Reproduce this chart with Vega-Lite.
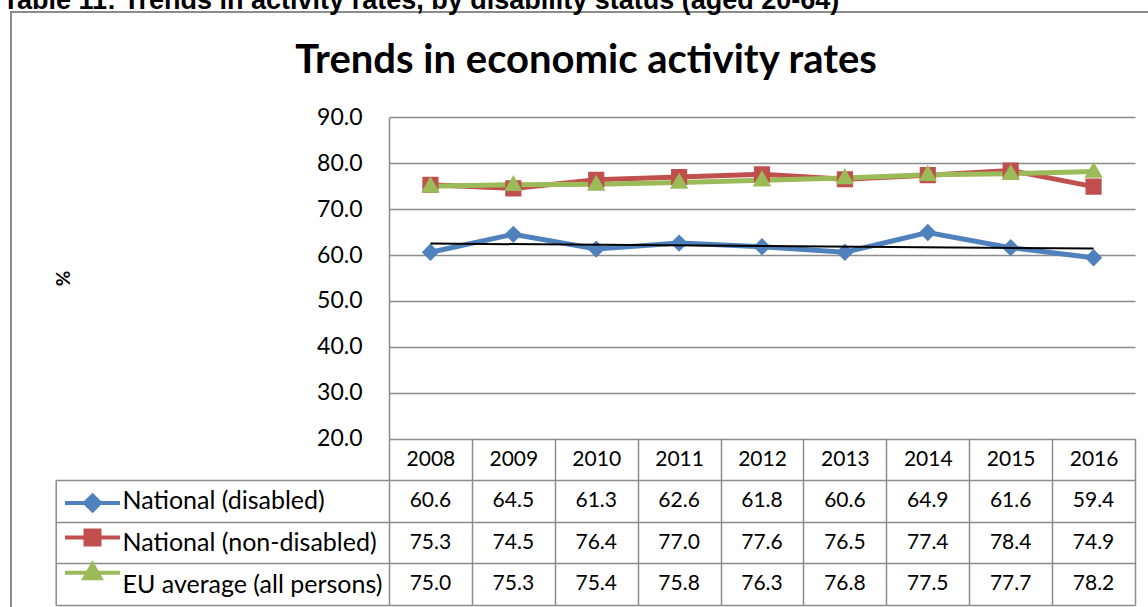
{
  "$schema": "https://vega.github.io/schema/vega-lite/v6.json",
  "width": 1150,
  "height": 600,
  "autosize": {"type": "none"},
  "padding": {"left": 11, "top": 12, "right": 0, "bottom": 0},
  "background": "white",
  "view": {"stroke": "#8c8c8c", "strokeWidth": 2},
  "title": {
    "text": "Trends in economic activity rates",
    "font": "Lato",
    "fontSize": 40,
    "fontWeight": "bold",
    "color": "black",
    "anchor": "middle",
    "frame": "group",
    "baseline": "alphabetic",
    "offset": -127
  },
  "datasets": {
    "rates": [
      {"series": "National (disabled)", "year": 2008, "value": 60.6},
      {"series": "National (disabled)", "year": 2009, "value": 64.5},
      {"series": "National (disabled)", "year": 2010, "value": 61.3},
      {"series": "National (disabled)", "year": 2011, "value": 62.6},
      {"series": "National (disabled)", "year": 2012, "value": 61.8},
      {"series": "National (disabled)", "year": 2013, "value": 60.6},
      {"series": "National (disabled)", "year": 2014, "value": 64.9},
      {"series": "National (disabled)", "year": 2015, "value": 61.6},
      {"series": "National (disabled)", "year": 2016, "value": 59.4},
      {"series": "National (non-disabled)", "year": 2008, "value": 75.3},
      {"series": "National (non-disabled)", "year": 2009, "value": 74.5},
      {"series": "National (non-disabled)", "year": 2010, "value": 76.4},
      {"series": "National (non-disabled)", "year": 2011, "value": 77.0},
      {"series": "National (non-disabled)", "year": 2012, "value": 77.6},
      {"series": "National (non-disabled)", "year": 2013, "value": 76.5},
      {"series": "National (non-disabled)", "year": 2014, "value": 77.4},
      {"series": "National (non-disabled)", "year": 2015, "value": 78.4},
      {"series": "National (non-disabled)", "year": 2016, "value": 74.9},
      {"series": "EU average (all persons)", "year": 2008, "value": 75.0},
      {"series": "EU average (all persons)", "year": 2009, "value": 75.3},
      {"series": "EU average (all persons)", "year": 2010, "value": 75.4},
      {"series": "EU average (all persons)", "year": 2011, "value": 75.8},
      {"series": "EU average (all persons)", "year": 2012, "value": 76.3},
      {"series": "EU average (all persons)", "year": 2013, "value": 76.8},
      {"series": "EU average (all persons)", "year": 2014, "value": 77.5},
      {"series": "EU average (all persons)", "year": 2015, "value": 77.7},
      {"series": "EU average (all persons)", "year": 2016, "value": 78.2}
    ],
    "trend": [
      {"year": 2008, "value": 62.5},
      {"year": 2016, "value": 61.4}
    ]
  },
  "encoding": {
    "x": {
      "field": "year",
      "type": "ordinal",
      "bandPosition": 0.5,
      "scale": {"type": "band", "range": [378, 1124], "paddingInner": 0, "paddingOuter": 0},
      "axis": {
        "orient": "bottom",
        "offset": -173.4,
        "title": null,
        "tickBand": "extent",
        "ticks": true,
        "tickSize": 166.4,
        "tickColor": "#8c8c8c",
        "tickWidth": 1.5,
        "domain": false,
        "grid": false,
        "labelFont": "Lato",
        "labelFontSize": 21,
        "labelColor": "black",
        "labelBaseline": "middle",
        "labelPadding": -145.7,
        "labelAngle": 0
      }
    }
  },
  "layer": [
    {
      "layer": [
        {
          "data": {"name": "rates"},
          "mark": {"type": "line", "strokeWidth": 5},
          "encoding": {
            "y": {
              "field": "value",
              "type": "quantitative",
              "scale": {"domain": [20, 90], "range": [426.6, 105.3], "nice": false, "zero": false},
              "axis": {
                "orient": "left",
                "offset": -378,
                "values": [20, 30, 40, 50, 60, 70, 80, 90],
                "format": ".1f",
                "ticks": false,
                "labelPadding": 27,
                "labelFont": "Lato",
                "labelFontSize": 23,
                "labelColor": "black",
                "grid": true,
                "gridColor": "#8c8c8c",
                "gridWidth": 1.5,
                "domain": true,
                "domainColor": "#8c8c8c",
                "domainWidth": 1.5,
                "title": "%",
                "titleFont": "Lato",
                "titleFontSize": 19,
                "titleFontWeight": "bold",
                "titleColor": "black",
                "titleX": -316
              }
            },
            "color": {
              "field": "series",
              "type": "nominal",
              "scale": {
                "domain": ["National (disabled)", "National (non-disabled)", "EU average (all persons)"],
                "range": ["#4F81BD", "#C0504D", "#9BBB59"]
              },
              "legend": {
                "title": null,
                "orient": "none",
                "legendX": 69.5,
                "legendY": 479,
                "direction": "vertical",
                "padding": 0,
                "symbolSize": 400,
                "rowPadding": 3.4,
                "labelFontSize": 1,
                "labelExpr": "''",
                "encode": {
                  "symbols": {
                    "update": {
                      "fill": {"scale": "color", "field": "value"},
                      "stroke": {"scale": "color", "field": "value"},
                      "strokeWidth": {"value": 4},
                      "opacity": {"value": 1}
                    }
                  }
                }
              }
            }
          }
        },
        {
          "data": {"name": "rates"},
          "mark": {"type": "point", "filled": true, "size": 533, "opacity": 1},
          "encoding": {
            "y": {"field": "value", "type": "quantitative"},
            "color": {
              "field": "series",
              "type": "nominal",
              "legend": {
                "title": null,
                "orient": "none",
                "legendX": 69.5,
                "legendY": 479,
                "direction": "vertical",
                "padding": 0,
                "symbolSize": 400,
                "rowPadding": 3.4,
                "labelFontSize": 1,
                "labelExpr": "''",
                "encode": {
                  "symbols": {
                    "update": {
                      "fill": {"scale": "color", "field": "value"},
                      "stroke": {"scale": "color", "field": "value"},
                      "strokeWidth": {"value": 4},
                      "opacity": {"value": 1}
                    }
                  }
                }
              }
            },
            "shape": {
              "field": "series",
              "type": "nominal",
              "scale": {
                "domain": ["National (disabled)", "National (non-disabled)", "EU average (all persons)"],
                "range": [
                  "M-2.75,0H2.75M0,-0.75L0.75,0L0,0.75L-0.75,0Z",
                  "M-2.75,0H2.75M-0.7,-0.7H0.7V0.7H-0.7Z",
                  "M-2.75,0H2.75M0,-0.85L0.8,0.55L-0.8,0.55Z"
                ]
              },
              "legend": null
            }
          }
        },
        {
          "data": {"name": "trend"},
          "mark": {"type": "line", "color": "black", "strokeWidth": 2},
          "encoding": {
            "y": {"field": "value", "type": "quantitative"}
          }
        }
      ]
    },
    {
      "data": {"name": "rates"},
      "mark": {"type": "text", "font": "Lato", "fontSize": 21, "color": "black", "baseline": "middle", "align": "center"},
      "encoding": {
        "y": {
          "field": "series",
          "type": "nominal",
          "sort": null,
          "scale": {
            "type": "band",
            "domain": ["National (disabled)", "National (non-disabled)", "EU average (all persons)"],
            "range": [468, 593],
            "paddingInner": 0,
            "paddingOuter": 0
          },
          "axis": {
            "orient": "left",
            "offset": -44.7,
            "tickBand": "extent",
            "ticks": true,
            "tickSize": -1079.3,
            "tickColor": "#8c8c8c",
            "tickWidth": 1.5,
            "domain": true,
            "domainColor": "#8c8c8c",
            "domainWidth": 1.5,
            "grid": false,
            "labelAlign": "left",
            "labelBaseline": "middle",
            "labelPadding": 1013,
            "labelFont": "Lato",
            "labelFontSize": 25,
            "labelColor": "black",
            "labelLimit": 400,
            "title": "Table 11: Trends in activity rates, by disability status (aged 20-64)",
            "titleFont": "Liberation Sans",
            "titleFontSize": 27,
            "titleFontWeight": "bold",
            "titleColor": "black",
            "titleAngle": 0,
            "titleAlign": "left",
            "titleBaseline": "alphabetic",
            "titleX": -53.7,
            "titleY": -4
          }
        },
        "text": {"field": "value", "type": "quantitative", "format": ".1f"}
      }
    }
  ],
  "resolve": {"scale": {"y": "independent"}, "axis": {"y": "independent"}},
  "config": {
    "font": "Lato",
    "axis": {"labelColor": "black", "titleColor": "black"}
  }
}
